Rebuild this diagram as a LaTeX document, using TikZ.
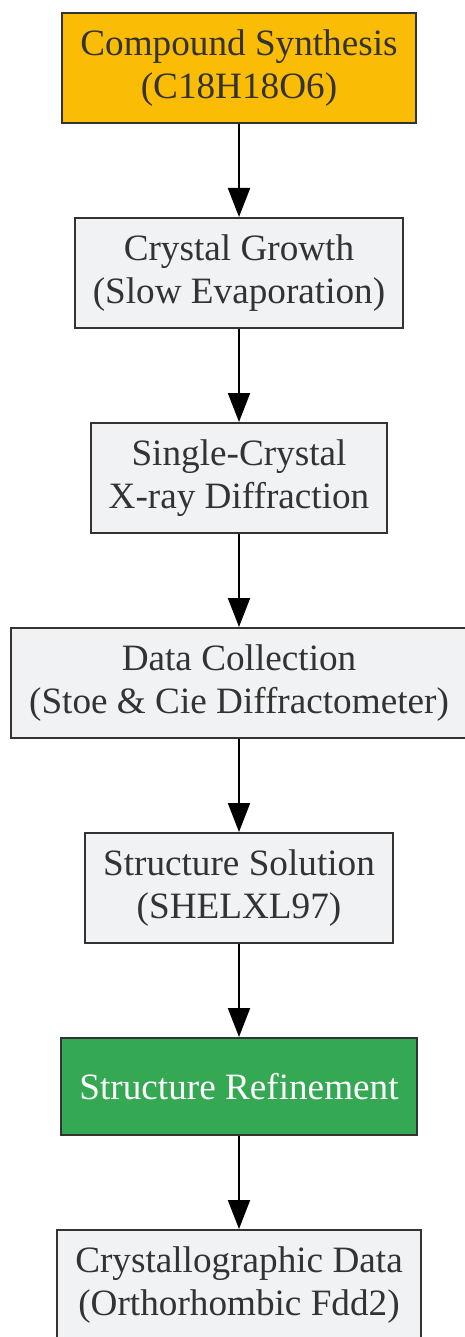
\documentclass[tikz,border=0pt]{standalone}
\usepackage{fontspec}
\setmainfont{Liberation Serif}
\usepackage{xcolor}
\usepackage{tikz}
\usetikzlibrary{arrows.meta, positioning}
\definecolor{boxgray}{HTML}{F1F2F4}
\definecolor{synthorange}{HTML}{FBBC05}
\definecolor{refinegreen}{HTML}{34A853}
\definecolor{edgegray}{HTML}{333333}

\begin{document}
\begin{tikzpicture}[
  box/.style={draw=edgegray, line width=1pt, fill=boxgray, text=edgegray, align=center,
    inner xsep=9pt, minimum height=55pt, font=\fontsize{18.6}{21.5}\selectfont},
  flow/.style={-{Triangle[length=14.5pt,width=11pt]}, line width=1pt},
  node distance=46.5pt
]
\useasboundingbox (0,0) rectangle (232.5pt,-668.5pt);
\node[box, fill=synthorange] (synth) at (119.5pt,-34pt) {Compound Synthesis\\(C18H18O6)};
\node[box, below=of synth] (growth) {Crystal Growth\\(Slow Evaporation)};
\node[box, below=of growth] (xray) {Single-Crystal\\X-ray Diffraction};
\node[box, below=of xray] (collect) {Data Collection\\(Stoe \& Cie Diffractometer)};
\node[box, below=of collect] (solve) {Structure Solution\\(SHELXL97)};
\node[box, below=of solve, fill=refinegreen, text=white, minimum height=48.5pt] (refine) {Structure Refinement};
\node[box, below=of refine] (cdata) {Crystallographic Data\\(Orthorhombic Fdd2)};
\foreach \a/\b in {synth/growth, growth/xray, xray/collect, collect/solve, solve/refine, refine/cdata}
  \draw[flow] (\a) -- (\b);
\end{tikzpicture}
\end{document}
